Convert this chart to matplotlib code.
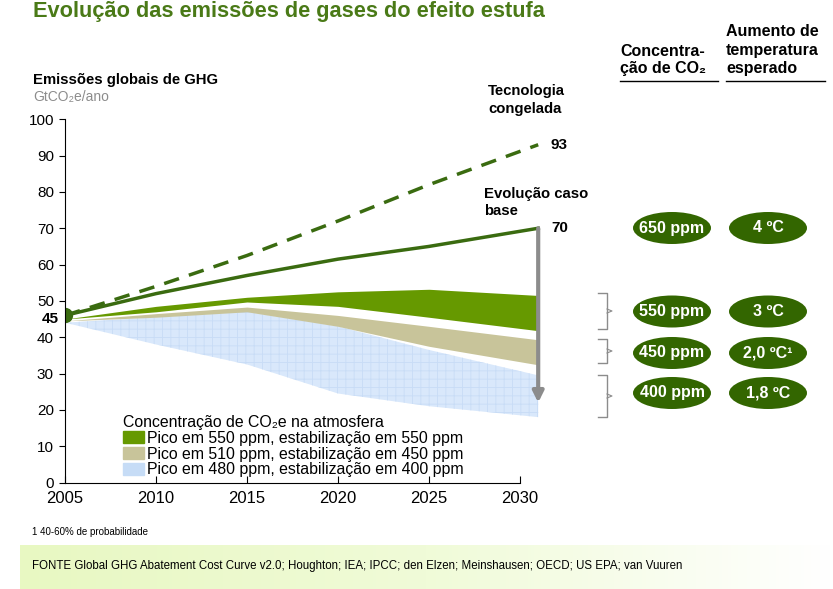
import matplotlib
matplotlib.use("Agg")
import matplotlib.pyplot as plt
from matplotlib.patches import Ellipse, Patch
from matplotlib.lines import Line2D
from matplotlib.colors import LinearSegmentedColormap
import numpy as np

plt.rcParams['font.family'] = ['Liberation Sans', 'DejaVu Sans']

# data (GtCO2e/ano)
years = [2005, 2010, 2015, 2020, 2025, 2031]
frozen_tech = [46, 54, 62.5, 72, 82, 93]
base_case = [46, 52, 57, 61.5, 65, 70]
s550_top = [45, 48.5, 51, 52.5, 53.2, 51.5]
s550_bot = [45, 47, 49.7, 48.5, 45.5, 41.8]
s450_top = [44.5, 46.5, 48.3, 46, 43, 39.3]
s450_bot = [44.5, 45.5, 47, 43, 37.5, 32.4]
s400_top = [44, 45.5, 47, 43, 36.5, 29.5]
s400_bot = [44, 38, 32.5, 24.5, 21, 18]

legend_labels = ['Pico em 550 ppm, estabilização em 550 ppm',
                 'Pico em 510 ppm, estabilização em 450 ppm',
                 'Pico em 480 ppm, estabilização em 400 ppm']
concentrations = ['650 ppm', '550 ppm', '450 ppm', '400 ppm']
temperatures = ['4 ºC', '3 ºC', '2,0 ºC¹', '1,8 ºC']

dark_green = '#3a6b10'
band_green = '#669900'
band_tan = '#c8c49a'
band_blue = '#d9e8fb'

W, H = 833, 589
fig = plt.figure(figsize=(W / 100, H / 100), dpi=100)


def px(x, y):
    # pixel position -> figure fraction
    return x / W, 1 - y / H


# source box with a soft gradient
bx = fig.add_axes([20 / W, 1 - 589 / H, 813 / W, 44 / H])
grad = np.linspace(0, 1, 256).reshape(1, -1)
cm = LinearSegmentedColormap.from_list('src', ['#e8f8c2', '#f0fbd8', '#ffffff'])
bx.imshow(grad, aspect='auto', cmap=cm, extent=[0, 1, 0, 1])
bx.axis('off')

ax = fig.add_axes([65 / W, 1 - 482.5 / H, 491.4 / W, 363.2 / H])
ax.set_xlim(2005, 2032)
ax.set_ylim(0, 100)

plt.rcParams['hatch.linewidth'] = 0.6
ax.fill_between(years, s400_bot, s400_top, facecolor=band_blue, edgecolor='#c8dcf6',
                hatch='++', linewidth=0)
ax.fill_between(years, s450_bot, s450_top, color=band_tan, linewidth=0)
ax.fill_between(years, s550_bot, s550_top, color=band_green, linewidth=0)
ax.plot(years, frozen_tech, color=dark_green, lw=2.5, ls=(0, (4.5, 3)))
ax.plot(years, base_case, color=dark_green, lw=2.5)
ax.plot([years[0]], [frozen_tech[0]], 'o', color=dark_green, ms=10)

ax.annotate('', xy=(years[-1], 22), xytext=(years[-1], base_case[-1]),
            arrowprops=dict(arrowstyle='-|>', color='#8c8c8c', lw=3, mutation_scale=16,
                            shrinkA=0, shrinkB=0))

ax.text(2031.7, frozen_tech[-1], str(frozen_tech[-1]), fontsize=11, weight='bold', va='center')
ax.text(2031.7, base_case[-1], str(base_case[-1]), fontsize=11, weight='bold', va='center')

for s in ['top', 'right']:
    ax.spines[s].set_visible(False)
ax.spines['bottom'].set_bounds(2005, 2030)
ax.set_xticks([2005, 2010, 2015, 2020, 2025, 2030])
ax.set_yticks(range(0, 101, 10))
ax.tick_params(axis='x', direction='in', length=5, labelsize=12, pad=6)
ax.tick_params(axis='y', direction='out', length=4, labelsize=11, pad=4)
ax.text(-0.012, 45, '45', transform=ax.get_yaxis_transform(), ha='right', va='center',
        fontsize=11, weight='bold')

handles = [Patch(color=band_green), Patch(color=band_tan), Patch(color='#c6dcf6')]
leg = ax.legend(handles, legend_labels, title='Concentração de CO₂e na atmosfera',
                loc='upper left', bbox_to_anchor=px(123, 415), bbox_transform=fig.transFigure,
                frameon=False, fontsize=11.4, title_fontsize=11.4, alignment='left',
                handlelength=1.3, handleheight=0.8, handletextpad=0.2, labelspacing=0.05,
                borderpad=0, borderaxespad=0)

# titles
fig.text(*px(33, 12), 'Evolução das emissões de gases do efeito estufa', fontsize=15.7,
         weight='bold', color='#4a7a17', va='center')
fig.text(*px(33, 80), 'Emissões globais de GHG', fontsize=10.7, weight='bold', va='center')
fig.text(*px(33, 97), 'GtCO₂e/ano', fontsize=10, color='#8c8c8c', va='center')

fig.text(*px(488, 91), 'Tecnologia', fontsize=10.7, weight='bold', va='center')
fig.text(*px(488, 109), 'congelada', fontsize=10.7, weight='bold', va='center')
fig.text(*px(484, 194), 'Evolução caso', fontsize=10.7, weight='bold', va='center')
fig.text(*px(484, 211), 'base', fontsize=10.7, weight='bold', va='center')

# column headers
for i, line in enumerate(['Concentra-', 'ção de CO₂']):
    fig.text(*px(620, 51 + 17 * i), line, fontsize=11.5, weight='bold', va='center')
for i, line in enumerate(['Aumento de', 'temperatura', 'esperado']):
    fig.text(*px(726, 32 + 18 * i), line, fontsize=11.5, weight='bold', va='center')
fig.add_artist(Line2D([620 / W, 718 / W], [1 - 81 / H] * 2, color='black', lw=1))
fig.add_artist(Line2D([726 / W, 825 / W], [1 - 81 / H] * 2, color='black', lw=1))

# ellipses
rows = [228, 311.5, 353, 393]
for y, c, t in zip(rows, concentrations, temperatures):
    for xc, label in [(672, c), (768, t)]:
        fig.add_artist(Ellipse(px(xc, y), 78 / W, 32 / H, transform=fig.transFigure,
                               facecolor='#336600', edgecolor='none'))
        fig.text(*px(xc, y), label, fontsize=11.5, weight='bold', color='white',
                 ha='center', va='center')

# brackets
for top, bot in [(293, 329), (339, 363), (375, 417)]:
    mid = (top + bot) / 2
    xs = [598, 607, 607, 598]
    ys = [top, top, bot, bot]
    fig.add_artist(Line2D([x / W for x in xs], [1 - y / H for y in ys], color='#8c8c8c', lw=1))
    fig.add_artist(Line2D([607 / W, 612 / W, 607 / W],
                          [1 - (mid - 2) / H, 1 - mid / H, 1 - (mid + 2) / H],
                          color='#8c8c8c', lw=0.8))

fig.text(*px(32, 532), '1 40-60% de probabilidade', fontsize=7, va='center')
fig.text(*px(32, 566), 'FONTE Global GHG Abatement Cost Curve v2.0; Houghton; IEA; IPCC; den Elzen; '
         'Meinshausen; OECD; US EPA; van Vuuren', fontsize=8.3, va='center')

fig.savefig('out.png', dpi=100)
